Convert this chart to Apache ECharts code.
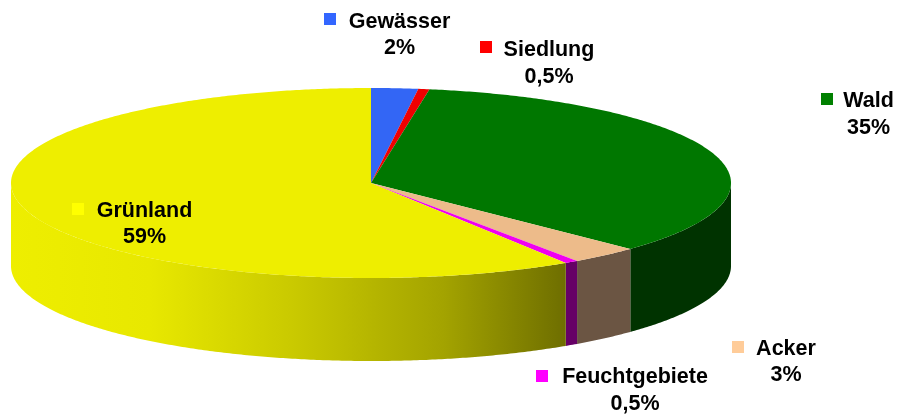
<!DOCTYPE html>
<html><head><meta charset="utf-8">
<style>html,body{margin:0;padding:0;background:#fff}#c{width:898px;height:417px}</style>
<script src="https://cdn.jsdelivr.net/npm/echarts@6/dist/echarts.min.js"></script>
</head><body><div id="c"></div>
<script>
const categories = ['Gewässer','Siedlung','Wald','Acker','Feuchtgebiete','Grünland'];
const shares = [2.1,0.5,34.6,3.1,0.6,59.1];
const shareLabels = ['2%','0,5%','35%','3%','0,5%','59%'];

const topColors = ['#3366F5','#F00000','#007700','#EDBB8A','#F000F0','#EEEE00'];
const keyColors = ['#3366FF','#FF0000','#008000','#FFCC99','#FF00FF','#FFFF00'];
const sideColors = ['#1A3380','#800000','#003300','#6B5543','#660066',null];

// layout of the pseudo-3D disc and of the labels
const CX=371, CY=183, RX=360, RY=95, DEPTH=83, STEP=Math.PI/360;
const keyLayout = [
  {kx:324,ky:13,cx:399.5,y1:22,y2:48},
  {kx:480,ky:41,cx:549,y1:50,y2:77},
  {kx:821,ky:93,cx:868.5,y1:101,y2:128},
  {kx:732,ky:341,cx:786,y1:349,y2:375},
  {kx:536,ky:370,cx:635,y1:377,y2:404},
  {kx:72,ky:203,cx:144.5,y1:211,y2:237}
];
const total = shares.reduce((a,b)=>a+b,0);
function pt(a,dy){return [CX+RX*Math.sin(a), CY-RY*Math.cos(a)+(dy||0)];}
function arc(a0,a1,dy){
  const n=Math.max(2,Math.ceil((a1-a0)/STEP)), out=[];
  for(let i=0;i<=n;i++) out.push(pt(a0+(a1-a0)*i/n,dy));
  return out;
}
const sideGradient = new echarts.graphic.LinearGradient(11,0,566,0,[
  {offset:0,color:'#EEEE00'},{offset:0.25,color:'#E8E800'},{offset:0.52,color:'#C8C800'},
  {offset:0.78,color:'#A3A300'},{offset:1,color:'#6E6E00'}],true);

function renderItem(params, api){
  const i=params.dataIndex;
  let before=0; for(let k=0;k<i;k++) before+=shares[k];
  const a0=before/total*2*Math.PI, a1=(before+api.value(0))/total*2*Math.PI;
  const kids=[];
  const s0=Math.max(a0,Math.PI/2), s1=Math.min(a1,3*Math.PI/2);
  if(s1>s0){
    kids.push({type:'polygon',z2:1,shape:{points:arc(s0,s1,0).concat(arc(s0,s1,DEPTH).reverse())},
      style:{fill:sideColors[i]||sideGradient,stroke:null}});
  }
  kids.push({type:'polygon',z2:2,shape:{points:[[CX,CY]].concat(arc(a0,a1,0))},
    style:{fill:topColors[i],stroke:null}});
  const L=keyLayout[i];
  kids.push({type:'rect',z2:5,shape:{x:L.kx,y:L.ky,width:12,height:12},style:{fill:keyColors[i]}});
  const font={fontFamily:'"Liberation Sans",Arial,sans-serif',fontWeight:'bold',fontSize:21.5,fill:'#000',align:'center',verticalAlign:'middle'};
  kids.push({type:'text',z2:6,style:Object.assign({text:categories[i],x:L.cx,y:L.y1},font)});
  kids.push({type:'text',z2:6,style:Object.assign({text:shareLabels[i],x:L.cx,y:L.y2},font)});
  return {type:'group',children:kids};
}
const chart=echarts.init(document.getElementById('c'),null,{renderer:'canvas'});
chart.setOption({animation:false,backgroundColor:'#fff',
  series:[{type:'custom',coordinateSystem:'none',renderItem,
    data:shares.map((v,i)=>({name:categories[i],value:[v]}))}]});
</script></body></html>
